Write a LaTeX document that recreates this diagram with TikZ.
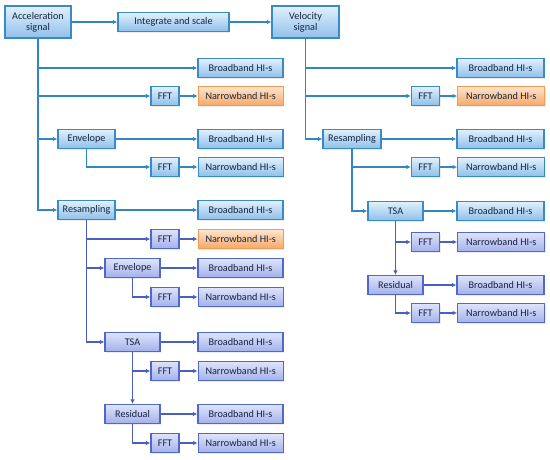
\documentclass[tikz,border=0pt]{standalone}
\usepackage{fontspec}
\setmainfont{Carlito}
\usepackage{xcolor}
\definecolor{boxtop}{HTML}{E2F0FC}
\definecolor{boxbot}{HTML}{8EC0EA}
\definecolor{boxline}{HTML}{3A8AC4}
\definecolor{vboxtop}{HTML}{DFE4FA}
\definecolor{vboxbot}{HTML}{A3B1EC}
\definecolor{vboxline}{HTML}{5068C8}
\definecolor{oboxtop}{HTML}{FDE5CF}
\definecolor{oboxbot}{HTML}{F7A867}
\definecolor{oboxline}{HTML}{F39A55}
\definecolor{linkblue}{HTML}{3386C0}
\definecolor{linkviolet}{HTML}{4A60C0}
\definecolor{textdark}{HTML}{17253F}
\usepackage{tikz}
\usetikzlibrary{arrows.meta, positioning, shadows}
\tikzset{
  hbox/.style ={rectangle, draw=boxline, line width=1.2pt, top color=boxtop, bottom color=boxbot,
                text=textdark, align=center, inner sep=2pt, minimum height=19pt, font=\fontsize{10.2}{11}\selectfont,
                drop shadow={opacity=0.15, shadow xshift=1pt, shadow yshift=-1pt}},
  hboxv/.style={hbox, draw=vboxline, top color=vboxtop, bottom color=vboxbot},
  hboxo/.style={hbox, draw=oboxline, top color=oboxtop, bottom color=oboxbot},
  harr/.style ={-{Latex[length=4.5pt, width=4.5pt]}, line width=1.3pt, color=linkblue},
  harrv/.style={-{Latex[length=4.5pt, width=4.5pt]}, line width=1.1pt, color=linkviolet},
}
\begin{document}
\begin{tikzpicture}[x=1pt, y=-1pt]
  \useasboundingbox (0,0) rectangle (550,459);
  % source signals
  \node[hbox, minimum width=66pt, minimum height=32pt] (acc) at (38,22) {Acceleration\\signal};
  \node[hbox, minimum width=111pt] (integ) at (173.5,22) {Integrate and scale};
  \node[hbox, minimum width=67pt, minimum height=32pt] (vel) at (305.5,22) {Velocity\\signal};
  % acceleration branch
  \node[hbox, minimum width=85pt] (bbA) at (240.5,68) {Broadband HI-s};
  \node[hbox, minimum width=28pt] (fftA) at (165,96) {FFT};
  \node[hboxo, minimum width=85pt, right=18pt of fftA] (nbA) {Narrowband HI-s};
  \node[hbox, minimum width=57pt] (envA) at (86.5,139) {Envelope};
  \node[hbox, minimum width=85pt] (bbB) at (240.5,139) {Broadband HI-s};
  \node[hbox, minimum width=28pt] (fftB) at (165,167) {FFT};
  \node[hbox, minimum width=85pt, right=18pt of fftB] (nbB) {Narrowband HI-s};
  \node[hbox, minimum width=57pt] (resA) at (86.5,210) {Resampling};
  \node[hbox, minimum width=85pt] (bbC) at (240.5,210) {Broadband HI-s};
  \node[hboxv, minimum width=28pt] (fftC) at (165,239) {FFT};
  \node[hboxo, minimum width=85pt, right=18pt of fftC] (nbC) {Narrowband HI-s};
  \node[hboxv, minimum width=55pt] (envB) at (132.5,268) {Envelope};
  \node[hboxv, minimum width=85pt] (bbD) at (240.5,268) {Broadband HI-s};
  \node[hboxv, minimum width=28pt] (fftD) at (165,297) {FFT};
  \node[hboxv, minimum width=85pt, right=18pt of fftD] (nbD) {Narrowband HI-s};
  \node[hboxv, minimum width=55pt] (tsaA) at (132.5,342) {TSA};
  \node[hboxv, minimum width=85pt] (bbE) at (240.5,342) {Broadband HI-s};
  \node[hboxv, minimum width=28pt] (fftE) at (165,371) {FFT};
  \node[hboxv, minimum width=85pt, right=18pt of fftE] (nbE) {Narrowband HI-s};
  \node[hboxv, minimum width=55pt] (resdA) at (132.5,414) {Residual};
  \node[hboxv, minimum width=85pt] (bbF) at (240.5,414) {Broadband HI-s};
  \node[hboxv, minimum width=28pt] (fftF) at (165,443) {FFT};
  \node[hboxv, minimum width=85pt, right=18pt of fftF] (nbF) {Narrowband HI-s};
  % velocity branch
  \node[hbox, minimum width=87pt] (bbR1) at (500.5,68) {Broadband HI-s};
  \node[hbox, minimum width=28pt] (fftR1) at (425.5,96) {FFT};
  \node[hboxo, minimum width=87pt, right=17pt of fftR1] (nbR1) {Narrowband HI-s};
  \node[hbox, minimum width=58pt] (resR) at (352,139) {Resampling};
  \node[hbox, minimum width=87pt] (bbR2) at (500.5,139) {Broadband HI-s};
  \node[hbox, minimum width=28pt] (fftR2) at (425.5,167) {FFT};
  \node[hbox, minimum width=87pt, right=17pt of fftR2] (nbR2) {Narrowband HI-s};
  \node[hbox, minimum width=55pt] (tsaR) at (395.5,211) {TSA};
  \node[hbox, minimum width=87pt] (bbR3) at (500.5,211) {Broadband HI-s};
  \node[hboxv, minimum width=28pt] (fftR3) at (425.5,242) {FFT};
  \node[hboxv, minimum width=87pt, right=17pt of fftR3] (nbR3) {Narrowband HI-s};
  \node[hboxv, minimum width=55pt] (resdR) at (395.5,285) {Residual};
  \node[hboxv, minimum width=87pt] (bbR4) at (500.5,285) {Broadband HI-s};
  \node[hboxv, minimum width=28pt] (fftR4) at (425.5,313) {FFT};
  \node[hboxv, minimum width=87pt, right=17pt of fftR4] (nbR4) {Narrowband HI-s};
  % links
  \draw[harr] (acc) -- (integ); \draw[harr] (integ) -- (vel);
  \draw[harr] (acc.south) |- (bbA); \draw[harr] (acc.south) |- (fftA); \draw[harr] (fftA) -- (nbA);
  \draw[harr] (acc.south) |- (envA); \draw[harr] (envA) -- (bbB); \draw[harr] (envA.south) |- (fftB); \draw[harr] (fftB) -- (nbB);
  \draw[harr] (acc.south) |- (resA); \draw[harr] (resA) -- (bbC);
  \draw[harrv] (resA.south) |- (fftC); \draw[harrv] (fftC) -- (nbC);
  \draw[harrv] (resA.south) |- (envB); \draw[harrv] (envB) -- (bbD); \draw[harrv] (envB.south) |- (fftD); \draw[harrv] (fftD) -- (nbD);
  \draw[harrv] (resA.south) |- (tsaA); \draw[harrv] (tsaA) -- (bbE); \draw[harrv] (tsaA.south) |- (fftE); \draw[harrv] (fftE) -- (nbE);
  \draw[harrv] (tsaA) -- (resdA); \draw[harrv] (resdA) -- (bbF); \draw[harrv] (resdA.south) |- (fftF); \draw[harrv] (fftF) -- (nbF);
  \draw[harr] (vel.south) |- (bbR1); \draw[harr] (vel.south) |- (fftR1); \draw[harr] (fftR1) -- (nbR1);
  \draw[harr] (vel.south) |- (resR); \draw[harr] (resR) -- (bbR2); \draw[harr] (resR.south) |- (fftR2); \draw[harr] (fftR2) -- (nbR2);
  \draw[harr] (resR.south) |- (tsaR); \draw[harr] (tsaR) -- (bbR3);
  \draw[harrv] (tsaR.south) |- (fftR3); \draw[harrv] (fftR3) -- (nbR3);
  \draw[harrv] (tsaR) -- (resdR); \draw[harrv] (resdR) -- (bbR4); \draw[harrv] (resdR.south) |- (fftR4); \draw[harrv] (fftR4) -- (nbR4);
\end{tikzpicture}
\end{document}
